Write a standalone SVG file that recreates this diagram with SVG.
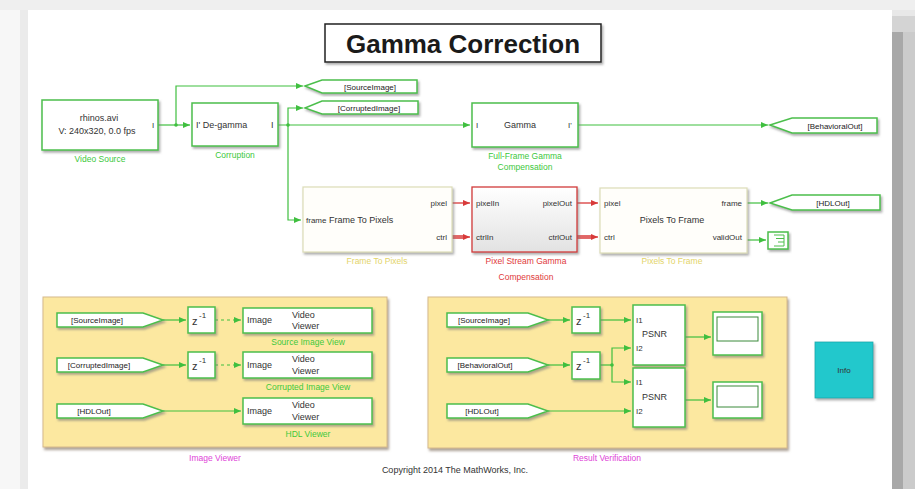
<svg xmlns="http://www.w3.org/2000/svg" width="915" height="489" viewBox="0 0 915 489">
  <style>
    text { font-family: "Liberation Sans", Arial, sans-serif; fill: #333; }
    .blk { fill: #ffffff; stroke: #4cbf4c; stroke-width: 1.5; filter: url(#shadow); }
    .tag { fill: #ffffff; stroke: #4cbf4c; stroke-width: 1.5; filter: url(#shadow); }
    .t9 { font-size: 9px; }
    .t8 { font-size: 8px; }
    .tg { font-size: 8px; fill: #222; text-anchor: middle; }
    .z { font-size: 11px; }
    .lbl-g { font-size: 8.5px; fill: #3cc83c; text-anchor: middle; }
    .lbl-y { font-size: 8.5px; fill: #e3d46a; text-anchor: middle; }
    .lbl-r { font-size: 8.5px; fill: #e03a3a; text-anchor: middle; }
    .lbl-m { font-size: 8.5px; fill: #e044d8; text-anchor: middle; }
    .wire { fill: none; stroke: #3fbf3f; stroke-width: 1.2; }
    .wire-a { fill: none; stroke: #3fbf3f; stroke-width: 1.2; marker-end: url(#ag); }
    .wire-d { fill: none; stroke: #3fbf3f; stroke-width: 1.2; stroke-dasharray: 3 3; marker-end: url(#ag); }
    .red-a { fill: none; stroke: #d83a3a; stroke-width: 1.3; marker-end: url(#ar); }
    .bus-o { fill: none; stroke: #d83a3a; stroke-width: 3.5; }
    .bus-i { fill: none; stroke: #ffffff; stroke-width: 1.3; }
    .dot { fill: #3fbf3f; }
    .area { fill: #fce8a0; stroke: #d6b98c; stroke-width: 1; filter: url(#shadow2); }
  </style>
  <defs>
    <marker id="ag" markerWidth="8" markerHeight="8" refX="7" refY="4" orient="auto" markerUnits="userSpaceOnUse">
      <path d="M0,1 L7,4 L0,7 Z" fill="#3fbf3f"/>
    </marker>
    <marker id="ar" markerWidth="8" markerHeight="8" refX="7" refY="4" orient="auto" markerUnits="userSpaceOnUse">
      <path d="M0,1 L7,4 L0,7 Z" fill="#d83a3a"/>
    </marker>
    <filter id="shadow" x="-10%" y="-10%" width="130%" height="140%">
      <feDropShadow dx="1.5" dy="2" stdDeviation="1" flood-color="#777" flood-opacity="0.6"/>
    </filter>
    <filter id="shadow2" x="-5%" y="-5%" width="110%" height="115%">
      <feDropShadow dx="1.5" dy="2.5" stdDeviation="1" flood-color="#8a7a6a" flood-opacity="0.7"/>
    </filter>
    <linearGradient id="psg" x1="0" y1="0" x2="0" y2="1">
      <stop offset="0" stop-color="#ffffff"/>
      <stop offset="1" stop-color="#e2e2e2"/>
    </linearGradient>
  </defs>

  <!-- window frame -->
  <rect x="0" y="0" width="915" height="489" fill="#ffffff"/>
  <rect x="0" y="0" width="20" height="489" fill="#f7f7f7"/>
  <rect x="20" y="10" width="8" height="479" fill="#ebebeb"/>
  <rect x="0" y="0" width="915" height="10" fill="#efefef"/>
  <rect x="892" y="10" width="11" height="479" fill="#a8a8a8"/>
  <rect x="903" y="10" width="12" height="479" fill="#cbcbcb"/>
  <rect x="892" y="10" width="23" height="6" fill="#e8e8e8"/>
  <rect x="892" y="16" width="23" height="16" fill="#d4d4d4"/>

  <!-- title -->
  <g id="title">
    <rect x="325" y="24" width="276" height="38" fill="#ffffff" stroke="#222" stroke-width="1.5" filter="url(#shadow)"/>
    <text x="463" y="53" font-size="26" font-weight="bold" text-anchor="middle" style="fill:#1a1a1a">Gamma Correction</text>
  </g>

  <!-- areas -->
  <g id="image-viewer-area">
    <rect class="area" x="43" y="297" width="344" height="150"/>
    <text class="lbl-m" x="215" y="461">Image Viewer</text>
  </g>
  <g id="result-verification-area">
    <rect class="area" x="428" y="297" width="359" height="151"/>
    <text class="lbl-m" x="607" y="461">Result Verification</text>
  </g>

  <!-- connectors -->
  <g id="connectors">
    <path class="wire-a" d="M158,125 H190"/>
    <path class="wire-a" d="M176,125 V86 H303"/>
    <circle class="dot" cx="176" cy="125" r="1.8"/>
    <path class="wire-a" d="M278,125 H470"/>
    <path class="wire-a" d="M288,125 V108 H303"/>
    <path class="wire-a" d="M288,125 V220 H301"/>
    <circle class="dot" cx="288" cy="125" r="1.8"/>
    <path class="wire-a" d="M578,125 H768"/>

    <path class="red-a" d="M452,203 H470"/>
    <path class="bus-o" d="M452,237 H464"/>
    <path class="bus-i" d="M452,237 H464"/>
    <path class="red-a" d="M452,237 H470"/>
    <path class="red-a" d="M577,203 H598"/>
    <path class="bus-o" d="M577,237 H592"/>
    <path class="bus-i" d="M577,237 H592"/>
    <path class="red-a" d="M577,237 H598"/>

    <path class="wire-a" d="M747,203 H768"/>
    <path class="wire-a" d="M747,240 H766"/>

    <path class="wire-a" d="M163,320 H186"/>
    <path class="wire-d" d="M215,320 H241"/>
    <path class="wire-a" d="M163,365 H186"/>
    <path class="wire-d" d="M215,365 H241"/>
    <path class="wire-a" d="M163,411 H241"/>

    <path class="wire-a" d="M548,320 H570"/>
    <path class="wire-a" d="M600,320 H631"/>
    <path class="wire-a" d="M548,365 H570"/>
    <path class="wire" d="M600,365 H612"/>
    <path class="wire-a" d="M612,365 V348 H631"/>
    <path class="wire-a" d="M612,365 V382 H631"/>
    <circle class="dot" cx="612" cy="365" r="1.8"/>
    <path class="wire-a" d="M548,411 H631"/>
    <path class="wire-a" d="M685,337 H711"/>
    <path class="wire-a" d="M685,400 H711"/>
  </g>

  <!-- top row -->
  <g id="video-source">
    <rect class="blk" x="42" y="100" width="116" height="50"/>
    <text class="t9" x="99" y="121" text-anchor="middle">rhinos.avi</text>
    <text class="t9" x="97" y="134" text-anchor="middle">V: 240x320, 0.0 fps</text>
    <text class="t8" x="152" y="128">I</text>
    <text class="lbl-g" x="100" y="162">Video Source</text>
  </g>
  <g id="corruption">
    <rect class="blk" x="192" y="103" width="86" height="43"/>
    <text class="t9" x="196" y="128">I' De-gamma</text>
    <text class="t9" x="271" y="128">I</text>
    <text class="lbl-g" x="235" y="158">Corruption</text>
  </g>
  <g id="goto-source-image">
    <polygon class="tag" points="305,86 322,80 417,80 417,93 322,93"/>
    <text class="tg" x="370" y="90">[SourceImage]</text>
  </g>
  <g id="goto-corrupted-image">
    <polygon class="tag" points="305,108 322,101 418,101 418,114 322,114"/>
    <text class="tg" x="369" y="111">[CorruptedImage]</text>
  </g>
  <g id="full-frame-gamma">
    <rect class="blk" x="472" y="103" width="106" height="44"/>
    <text class="t8" x="476" y="128">I</text>
    <text class="t9" x="520" y="128" text-anchor="middle">Gamma</text>
    <text class="t8" x="568" y="128">I'</text>
    <text class="lbl-g" x="525" y="159">Full-Frame Gamma</text>
    <text class="lbl-g" x="525" y="170">Compensation</text>
  </g>
  <g id="goto-behavioral-out">
    <polygon class="tag" points="770,125 792,118 877,118 877,133 792,133"/>
    <text class="tg" x="835" y="129">[BehavioralOut]</text>
  </g>

  <!-- streaming row -->
  <g id="frame-to-pixels">
    <rect x="303" y="187" width="149" height="65" fill="#fffefa" stroke="#dcdcb8" stroke-width="1.2" filter="url(#shadow)"/>
    <text class="t8" x="306" y="223">frame</text>
    <text class="t9" x="329" y="223">Frame To Pixels</text>
    <text class="t8" x="447" y="206" text-anchor="end">pixel</text>
    <text class="t8" x="447" y="240" text-anchor="end">ctrl</text>
    <text class="lbl-y" x="377" y="264">Frame To Pixels</text>
  </g>
  <g id="pixel-stream-gamma">
    <rect x="472" y="187" width="105" height="65" fill="url(#psg)" stroke="#d23a3a" stroke-width="1.3" filter="url(#shadow)"/>
    <text class="t8" x="476" y="206">pixelIn</text>
    <text class="t8" x="476" y="240">ctrlIn</text>
    <text class="t8" x="572" y="206" text-anchor="end">pixelOut</text>
    <text class="t8" x="572" y="240" text-anchor="end">ctrlOut</text>
    <text class="lbl-r" x="526" y="264">Pixel Stream Gamma</text>
    <text class="lbl-r" x="526" y="280">Compensation</text>
  </g>
  <g id="pixels-to-frame">
    <rect x="600" y="188" width="147" height="65" fill="#fffefa" stroke="#dcdcb8" stroke-width="1.2" filter="url(#shadow)"/>
    <text class="t8" x="604" y="206">pixel</text>
    <text class="t8" x="604" y="240">ctrl</text>
    <text class="t9" x="672" y="223" text-anchor="middle">Pixels To Frame</text>
    <text class="t8" x="742" y="206" text-anchor="end">frame</text>
    <text class="t8" x="742" y="240" text-anchor="end">validOut</text>
    <text class="lbl-y" x="672" y="264">Pixels To Frame</text>
  </g>
  <g id="goto-hdl-out">
    <polygon class="tag" points="770,203 792,195 880,195 880,210 792,210"/>
    <text class="tg" x="833" y="206">[HDLOut]</text>
  </g>
  <g id="terminator">
    <rect class="blk" x="768" y="232" width="20" height="17"/>
    <path d="M774,235 H784 V246 H774 M776,238.5 H784 M778,242 H784" fill="none" stroke="#4cbf4c" stroke-width="1"/>
  </g>

  <!-- image viewer -->
  <g id="from-source-image-1">
    <polygon class="tag" points="57,313 143,313 163,320 143,327 57,327"/>
    <text class="tg" x="97" y="323">[SourceImage]</text>
  </g>
  <g id="delay-1">
    <rect class="blk" x="188" y="307" width="27" height="26"/>
    <text class="z" x="192" y="325">z</text>
    <text class="t8" x="199" y="318">-1</text>
  </g>
  <g id="source-image-view">
    <rect class="blk" x="243" y="308" width="129" height="25"/>
    <text class="t9" x="247" y="323">Image</text>
    <text class="t9" x="292" y="318">Video</text>
    <text class="t9" x="292" y="329">Viewer</text>
    <text class="lbl-g" x="308" y="345">Source Image View</text>
  </g>
  <g id="from-corrupted-image">
    <polygon class="tag" points="57,358 143,358 163,365 143,372 57,372"/>
    <text class="tg" x="99" y="368">[CorruptedImage]</text>
  </g>
  <g id="delay-2">
    <rect class="blk" x="188" y="352" width="27" height="26"/>
    <text class="z" x="192" y="370">z</text>
    <text class="t8" x="199" y="363">-1</text>
  </g>
  <g id="corrupted-image-view">
    <rect class="blk" x="243" y="352" width="129" height="26"/>
    <text class="t9" x="247" y="368">Image</text>
    <text class="t9" x="292" y="362">Video</text>
    <text class="t9" x="292" y="374">Viewer</text>
    <text class="lbl-g" x="308" y="390">Corrupted Image View</text>
  </g>
  <g id="from-hdl-out-1">
    <polygon class="tag" points="57,404 143,404 163,411 143,418 57,418"/>
    <text class="tg" x="94" y="414">[HDLOut]</text>
  </g>
  <g id="hdl-viewer">
    <rect class="blk" x="243" y="398" width="129" height="26"/>
    <text class="t9" x="247" y="414">Image</text>
    <text class="t9" x="292" y="408">Video</text>
    <text class="t9" x="292" y="420">Viewer</text>
    <text class="lbl-g" x="308" y="437">HDL Viewer</text>
  </g>

  <!-- result verification -->
  <g id="from-source-image-2">
    <polygon class="tag" points="447,313 528,313 548,320 528,327 447,327"/>
    <text class="tg" x="484" y="323">[SourceImage]</text>
  </g>
  <g id="delay-3">
    <rect class="blk" x="572" y="307" width="28" height="26"/>
    <text class="z" x="576" y="325">z</text>
    <text class="t8" x="583" y="318">-1</text>
  </g>
  <g id="from-behavioral-out">
    <polygon class="tag" points="447,358 528,358 548,365 528,372 447,372"/>
    <text class="tg" x="485" y="368">[BehavioralOut]</text>
  </g>
  <g id="delay-4">
    <rect class="blk" x="572" y="352" width="28" height="27"/>
    <text class="z" x="576" y="370">z</text>
    <text class="t8" x="583" y="363">-1</text>
  </g>
  <g id="from-hdl-out-2">
    <polygon class="tag" points="447,404 528,404 548,411 528,418 447,418"/>
    <text class="tg" x="482" y="414">[HDLOut]</text>
  </g>
  <g id="psnr-1">
    <rect class="blk" x="633" y="305" width="52" height="60"/>
    <text class="t8" x="636" y="323">I1</text>
    <text class="t9" x="642" y="337">PSNR</text>
    <text class="t8" x="636" y="351">I2</text>
  </g>
  <g id="psnr-2">
    <rect class="blk" x="633" y="368" width="52" height="59"/>
    <text class="t8" x="636" y="385">I1</text>
    <text class="t9" x="642" y="400">PSNR</text>
    <text class="t8" x="636" y="414">I2</text>
  </g>
  <g id="display-1">
    <rect class="blk" x="713" y="312" width="49" height="43"/>
    <rect x="717" y="317" width="41" height="24" fill="#ffffff" stroke="#3a8a3a" stroke-width="1"/>
  </g>
  <g id="display-2">
    <rect class="blk" x="713" y="382" width="49" height="36"/>
    <rect x="717" y="386" width="41" height="21" fill="#ffffff" stroke="#3a8a3a" stroke-width="1"/>
  </g>

  <g id="info">
    <rect x="815" y="342" width="58" height="56" fill="#22c8cc" stroke="#1aa8ac" stroke-width="0.8" filter="url(#shadow)"/>
    <text class="t8" x="844" y="373" text-anchor="middle">Info</text>
  </g>

  <text x="455" y="473" font-size="9" text-anchor="middle">Copyright 2014 The MathWorks, Inc.</text>
</svg>
